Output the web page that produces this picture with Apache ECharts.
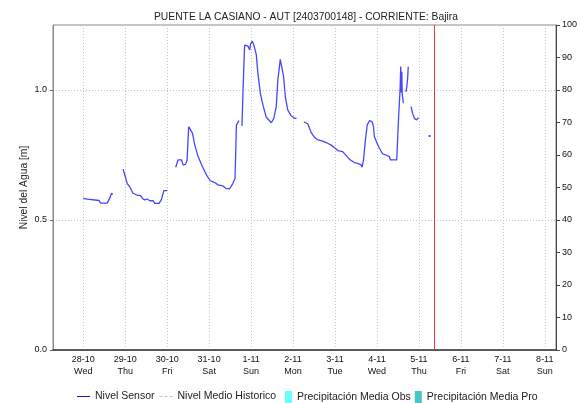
<!DOCTYPE html>
<html>
<head>
<meta charset="utf-8">
<script src="https://cdn.jsdelivr.net/npm/echarts@6/dist/echarts.min.js"></script>
<style>html,body{margin:0;padding:0;background:#fff}#c{width:580px;height:403px}</style>
</head>
<body>
<div id="c"></div>
<script>
// Day tick labels (x axis ticks at midnight, hours counted from 28-10 00:00)
const dayLabels = ['28-10','29-10','30-10','31-10','1-11','2-11','3-11','4-11','5-11','6-11','7-11','8-11'];
const weekDays  = ['Wed','Thu','Fri','Sat','Sun','Mon','Tue','Wed','Thu','Fri','Sat','Sun'];
const dayTickHours = dayLabels.map((d, i) => i * 24);
const xStartHour = -17.3;
const xEndHour = 270.4;
const nowHour = 200.8;

// Sensor level (m); null = gap in the record
const sensorHours = [
  0.0, 2.3, 2.9, 9.1, 9.9, 13.7, 15.2, 16.2, 16.8, 20,
  22.8, 23.8, 25.1, 26.7, 28.5, 30.5, 32.8, 33.9, 35.2, 36.5, 38.1, 40.0, 40.9, 43.4, 44.8, 46.1, 48.0, 50,
  52.9, 54.2, 56.2, 57.1, 58.5, 59.4, 60.3, 61.3, 62.5, 63.8, 65.7, 68.2, 70.5, 72.7, 75.2, 77.1, 79.9, 81.5, 83.8, 85.6, 86.8, 87.2, 87.6, 89.1, 90,
  90.8, 91.4, 92.3, 94.2, 95.2, 95.7, 96.7, 97.6, 99.0, 99.9, 101.3, 102.8, 104.7, 105.6, 107.6, 109.0, 110.4, 111.3, 112.7, 113.6, 114.6, 115.6, 117.0, 119.0, 120.9, 122.0, 124,
  126.2, 127.0, 128.5, 130.4, 132.3, 134.2, 135.1, 136.5, 139.0, 141.8, 144.1, 145.6, 148.4, 151.3, 152.8, 155.1, 157.0, 158.9, 159.5, 160.3, 161.4, 162.4, 163.7, 165.2, 166.0, 166.5, 167.9, 169.4, 171.3, 173.2, 175.1, 175.7, 179.3, 179.8, 180.4, 181.2, 181.6, 181.9, 182.2, 182.5, 183.1, 184,
  184.6, 185.2, 185.6, 185.9, 187,
  187.5, 188.4, 189.4, 190.7, 191.8, 194,
  197.4, 198.9
];
const sensorLevels = [
  0.583, 0.580, 0.575, 0.575, 0.565, 0.565, 0.585, 0.603, 0.598, null,
  0.695, 0.673, 0.641, 0.626, 0.603, 0.596, 0.594, 0.583, 0.577, 0.581, 0.574, 0.574, 0.564, 0.564, 0.580, 0.613, 0.613, null,
  0.703, 0.731, 0.731, 0.712, 0.714, 0.731, 0.859, 0.856, 0.833, 0.788, 0.744, 0.705, 0.673, 0.651, 0.644, 0.635, 0.631, 0.622, 0.620, 0.641, 0.660, 0.756, 0.865, 0.882, null,
  0.862, 1.000, 1.173, 1.169, 1.154, 1.177, 1.188, 1.173, 1.135, 1.064, 0.987, 0.942, 0.895, 0.891, 0.874, 0.891, 0.936, 1.038, 1.118, 1.113, 1.051, 0.974, 0.923, 0.900, 0.891, 0.891, null,
  0.878, 0.882, 0.869, 0.836, 0.818, 0.808, 0.810, 0.804, 0.798, 0.788, 0.776, 0.767, 0.763, 0.741, 0.731, 0.721, 0.718, 0.712, 0.703, 0.731, 0.808, 0.865, 0.882, 0.878, 0.859, 0.821, 0.798, 0.776, 0.754, 0.750, 0.744, 0.731, 0.731, 0.808, 0.897, 1.000, 1.090, 0.990, 1.070, 0.980, 0.949, null,
  0.993, 1.019, 1.050, 1.090, null,
  0.936, 0.910, 0.891, 0.885, 0.894, null,
  0.823, 0.823
];
const levelTicks = [0, 0.5, 1.0];

const sensorData = sensorHours.map((h, i) => [h, sensorLevels[i] === null ? '-' : sensorLevels[i]]);

const FONT = 'Liberation Sans';
const chart = echarts.init(document.getElementById('c'), null, {renderer: 'canvas'});
chart.setOption({
  animation: false,
  backgroundColor: '#fff',
  textStyle: {fontFamily: FONT},
  title: {
    text: 'PUENTE LA CASIANO - AUT [2403700148] - CORRIENTE: Bajira',
    left: 149, top: 7,
    textStyle: {fontFamily: FONT, fontSize: 10.3, fontWeight: 'normal', color: '#222'}
  },
  grid: {left: 53, right: 23, top: 25, bottom: 53, show: true, borderColor: '#8a8a8a', borderWidth: 1, containLabel: false},
  legend: [{
    left: 72, top: 386, itemWidth: 13, itemHeight: 12, itemGap: 5,
    textStyle: {fontFamily: FONT, fontSize: 10.5, color: '#222'},
    data: [
      {name: 'Nivel Sensor', icon: 'path://M0,5.5h15v1.2h-15z', itemStyle: {color: '#1414c8'}},
      {name: 'Nivel Medio Historico', icon: 'path://M0,5.5h3v1h-3zM6,5.5h3v1h-3zM12,5.5h3v1h-3z', itemStyle: {color: '#bdbdbd'}}
    ]
  }, {
    left: 280, top: 386, itemWidth: 7, itemHeight: 12, itemGap: 4, icon: 'rect',
    textStyle: {fontFamily: FONT, fontSize: 10.5, color: '#222'},
    data: ['Precipitación Media Obs', 'Precipitación Media Pro']
  }],
  xAxis: {
    type: 'value', min: xStartHour, max: xEndHour,
    axisLine: {show: true, onZero: false, lineStyle: {color: '#333', width: 1.5, type: [1, 1]}},
    axisTick: {show: false, customValues: dayTickHours},
    axisLabel: {
      customValues: dayTickHours, margin: 4, color: '#111', fontSize: 9, fontFamily: FONT, lineHeight: 12,
      formatter: v => { const i = Math.round(v / 24); return dayLabels[i] + '\n' + weekDays[i]; }
    },
    splitLine: {show: true, lineStyle: {color: '#c4c4c4', width: 1, type: [1, 2]}}
  },
  yAxis: [{
    type: 'value', min: 0, max: 1.25, position: 'left',
    name: 'Nivel del Agua [m]', nameLocation: 'middle', nameGap: 24, nameRotate: 90, nameMoveOverlap: false,
    nameTextStyle: {fontFamily: FONT, fontSize: 10.3, color: '#222'},
    axisLine: {show: true, onZero: false, lineStyle: {color: '#8a8a8a'}},
    axisTick: {show: true, length: 3, customValues: levelTicks, lineStyle: {color: '#666'}},
    axisLabel: {customValues: levelTicks, margin: 6, fontSize: 9, color: '#111', fontFamily: FONT, formatter: v => v.toFixed(1)},
    splitLine: {show: true, lineStyle: {color: '#c4c4c4', width: 1, type: [1, 2]}}
  }, {
    type: 'value', min: 0, max: 100, interval: 10, position: 'right',
    axisLine: {show: true, onZero: false, lineStyle: {color: '#444'}},
    axisTick: {show: true, length: 4, lineStyle: {color: '#444'}},
    axisLabel: {margin: 6, fontSize: 9, color: '#111', fontFamily: FONT},
    splitLine: {show: false}
  }],
  series: [{
    name: 'Nivel Sensor', type: 'line', yAxisIndex: 0, data: sensorData,
    symbol: 'none', connectNulls: false,
    lineStyle: {color: '#4646ff', width: 1.3}, itemStyle: {color: '#4646ff'},
    markLine: {
      silent: true, symbol: ['none', 'none'], label: {show: false},
      lineStyle: {color: '#ff3030', width: 1, type: 'solid'},
      data: [{xAxis: nowHour}]
    }
  }, {
    name: 'Nivel Medio Historico', type: 'line', yAxisIndex: 0, data: [],
    symbol: 'none', lineStyle: {color: '#b8b8b8', width: 1, type: [3, 3]}
  }, {
    name: 'Precipitación Media Obs', type: 'bar', yAxisIndex: 1, data: [],
    itemStyle: {color: '#66ffff'}
  }, {
    name: 'Precipitación Media Pro', type: 'bar', yAxisIndex: 1, data: [],
    itemStyle: {color: '#44c8c4'}
  }]
});
</script>
</body>
</html>
